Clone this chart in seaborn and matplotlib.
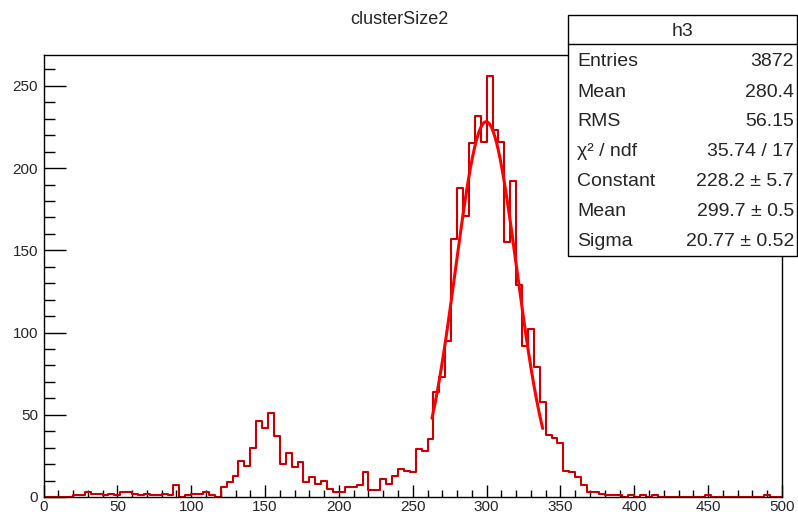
import numpy as np
import pandas as pd
import matplotlib
matplotlib.use("Agg")
import matplotlib.pyplot as plt
import seaborn as sns
from matplotlib.patches import Rectangle
from matplotlib.lines import Line2D
from matplotlib.ticker import MultipleLocator

# ---------------- DATA ----------------
BIN_WIDTH = 4
X_MIN, X_MAX = 0, 500

# counts per 4-unit bin, 0..500 (125 bins)
counts = [
    0, 0, 0, 0, 0, 1, 1, 3, 2, 2,          # 0-40
    1, 2, 1, 3, 3, 2, 1, 2, 1, 1,          # 40-80
    2, 1, 7, 0, 1, 2, 2, 3, 1, 0,          # 80-120
    6, 9, 13, 22, 19, 30, 46, 42, 51, 37,  # 120-160
    20, 27, 18, 21, 9, 12, 8, 10, 5, 3,    # 160-200
    3, 6, 6, 7, 15, 4, 4, 11, 8, 13,       # 200-240
    17, 16, 15, 29, 28, 35, 64, 73, 95, 157,        # 240-280
    188, 171, 215, 232, 216, 256, 223, 216, 155, 192,  # 280-320
    129, 92, 102, 79, 58, 38, 36, 33, 16, 15,       # 320-360
    12, 7, 3, 3, 2, 1, 1, 1, 0, 1,         # 360-400
    0, 1, 0, 1, 0, 0, 0, 0, 0, 0,          # 400-440
    0, 0, 1, 0, 0, 0, 0, 0, 0, 0,          # 440-480
    0, 0, 1, 0, 0,                         # 480-500
]

# gaussian fit result shown in the stats box
FIT_CONSTANT = 228.2
FIT_MEAN = 299.7
FIT_SIGMA = 20.77
FIT_RANGE = (263, 338)

TITLE = "clusterSize2"
stat_names = ["Entries", "Mean", "RMS", "\u03c7\u00b2 / ndf", "Constant", "Mean", "Sigma"]
stat_values = ["3872", "280.4", "56.15", "35.74 / 17", "228.2 \u00b1 5.7",
               "299.7 \u00b1 0.5", "20.77 \u00b1 0.52"]

# ---------------- STYLE ----------------
sns.set_theme(style="white")
plt.rcParams["font.family"] = ["Liberation Sans", "DejaVu Sans"]

W, H = 798, 519
fig = plt.figure(figsize=(W / 100, H / 100), dpi=100)
ax = fig.add_axes([43.5 / W, 1 - 497 / H, (782 - 43.5) / W, (497 - 55) / H])

centers = [X_MIN + BIN_WIDTH * (i + 0.5) for i in range(len(counts))]
df = pd.DataFrame({"x": centers, "n": counts})

sns.histplot(data=df, x="x", weights="n", binwidth=BIN_WIDTH, binrange=(X_MIN, X_MAX),
             element="step", fill=False, color="#c80000", linewidth=1.5, ax=ax)

xf = np.linspace(FIT_RANGE[0], FIT_RANGE[1], 300)
fit_df = pd.DataFrame({"x": xf,
                       "y": FIT_CONSTANT * np.exp(-0.5 * ((xf - FIT_MEAN) / FIT_SIGMA) ** 2)})
sns.lineplot(data=fit_df, x="x", y="y", color="#ff0000", linewidth=2.2, ax=ax)

ax.set_xlim(X_MIN, X_MAX)
ax.set_ylim(0, 1.05 * max(counts))
ax.set_xlabel("")
ax.set_ylabel("")

for s in ax.spines.values():
    s.set_color("black")
    s.set_linewidth(1.0)

ax.xaxis.set_major_locator(MultipleLocator(50))
ax.xaxis.set_minor_locator(MultipleLocator(10))
ax.yaxis.set_major_locator(MultipleLocator(50))
ax.yaxis.set_minor_locator(MultipleLocator(10))
ax.tick_params(axis="x", which="major", direction="in", length=9, width=1,
               color="black", labelsize=11, pad=2, bottom=True)
ax.tick_params(axis="x", which="minor", direction="in", length=5, width=1,
               color="black", bottom=True)
ax.tick_params(axis="y", which="major", direction="in", length=16, width=1,
               color="black", labelsize=11, pad=4, left=True)
ax.tick_params(axis="y", which="minor", direction="in", length=8, width=1,
               color="black", left=True)

fig.text(0.5, 1 - 19 / H, TITLE, ha="center", va="center", fontsize=13)

# ---------------- STATS BOX ----------------
bx0, bx1, by0, by1 = 568, 797, 15, 256
fig.add_artist(Rectangle((bx0 / W, 1 - by1 / H), (bx1 - bx0) / W, (by1 - by0) / H,
                         transform=fig.transFigure, facecolor="white",
                         edgecolor="black", linewidth=1.0, zorder=5))
fig.add_artist(Line2D([bx0 / W, bx1 / W], [1 - 44 / H, 1 - 44 / H],
                      transform=fig.transFigure, color="black", linewidth=1.0, zorder=6))
fig.text((bx0 + bx1) / 2 / W, 1 - 31 / H, "h3", ha="center", va="center",
         fontsize=14, zorder=7)
for i, (name, val) in enumerate(zip(stat_names, stat_values)):
    yy = 1 - (62 + 30 * i) / H
    fig.text(577 / W, yy, name, ha="left", va="center", fontsize=14, zorder=7)
    fig.text(794 / W, yy, val, ha="right", va="center", fontsize=14, zorder=7)

fig.savefig("out.png", dpi=100, facecolor="white")
